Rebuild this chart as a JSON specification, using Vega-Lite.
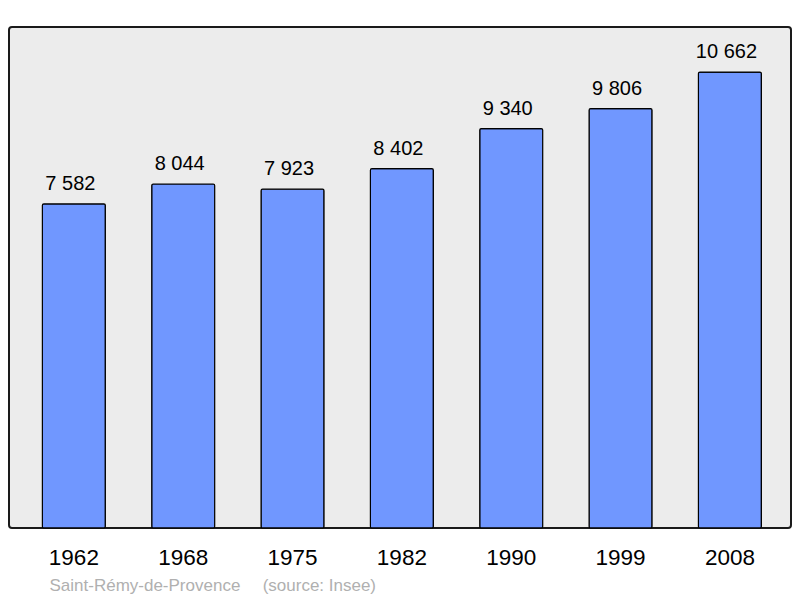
{
  "$schema": "https://vega.github.io/schema/vega-lite/v6.json",
  "autosize": {"type": "none"},
  "width": 782,
  "height": 501,
  "padding": {"left": 9, "top": 27, "right": 9, "bottom": 70},
  "background": "white",
  "data": {"values": [
    {"year": "1962", "pop": 7582, "label": "7 582"},
    {"year": "1968", "pop": 8044, "label": "8 044"},
    {"year": "1975", "pop": 7923, "label": "7 923"},
    {"year": "1982", "pop": 8402, "label": "8 402"},
    {"year": "1990", "pop": 9340, "label": "9 340"},
    {"year": "1999", "pop": 9806, "label": "9 806"},
    {"year": "2008", "pop": 10662, "label": "10 662"}
  ]},
  "encoding": {
    "x": {
      "field": "year", "type": "nominal", "sort": null,
      "scale": {"paddingInner": 0.424, "paddingOuter": 0.288, "align": 0.53},
      "axis": {
        "domain": false, "ticks": false, "tickSize": 0, "grid": false,
        "labelAngle": 0, "labelFont": "Liberation Sans", "labelFontSize": 22.5,
        "labelColor": "#000000", "labelBaseline": "alphabetic", "labelPadding": 36,
        "title": "Saint-Rémy-de-Provence\u00a0\u00a0\u00a0\u00a0\u2009(source: Insee)",
        "titleFont": "Liberation Sans", "titleFontSize": 17, "titleFontWeight": "normal",
        "titleColor": "#b0b0b0", "titleAnchor": "start", "titleAlign": "left",
        "titleBaseline": "alphabetic", "titleX": 40, "titleY": 62
      }
    },
    "y": {
      "field": "pop", "type": "quantitative",
      "scale": {"domain": [0, 11716], "nice": false, "zero": true},
      "axis": null
    }
  },
  "layer": [
    {
      "mark": {"type": "bar", "fill": "#7097ff", "stroke": "#000000", "strokeWidth": 1.2, "cornerRadius": 1.5}
    },
    {
      "mark": {"type": "text", "font": "Liberation Sans", "fontSize": 20, "color": "#000000", "baseline": "alphabetic", "dy": -14, "dx": -3.5},
      "encoding": {"text": {"field": "label"}}
    }
  ],
  "config": {
    "view": {"fill": "#ececec", "stroke": "#1a1a1a", "strokeWidth": 2, "cornerRadius": 3}
  }
}
